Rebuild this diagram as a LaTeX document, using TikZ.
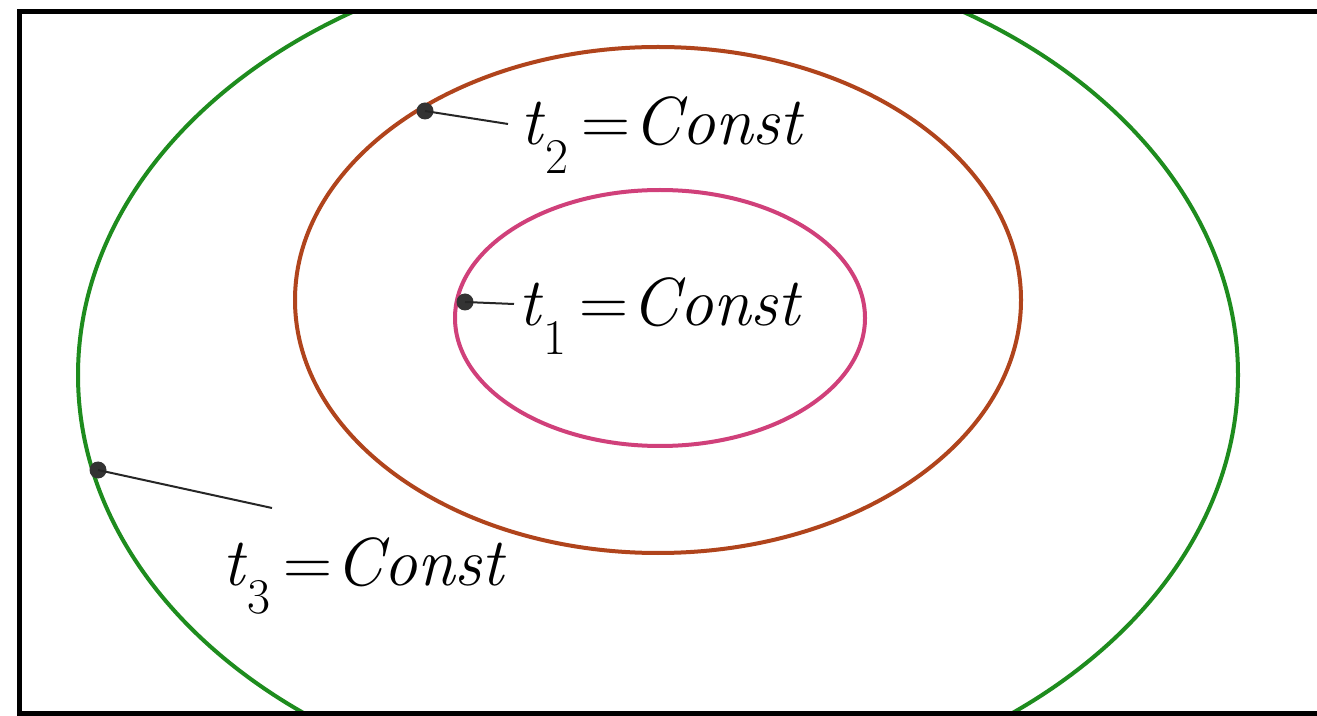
\documentclass[tikz,border=0pt]{standalone}
\usepackage{fontspec}
\definecolor{greenc}{HTML}{1E8C1E}
\definecolor{brownc}{HTML}{B0441C}
\definecolor{pinkc}{HTML}{D0407A}
\newcommand\tlab[1]{\textit{t}\raisebox{-0.42em}{\fontsize{25}{28}\selectfont #1}\hspace{0.2em}=\hspace{0.04em}\textit{Const}}
\tikzset{
  frameline/.style={line width=2.5pt,black},
  curve/.style={line width=2pt},
  dotnode/.style={circle,fill=black!80,inner sep=0pt,minimum size=8.5pt},
  leader/.style={line width=1pt,black!85},
  labnode/.style={anchor=base west,inner sep=0pt,font=\fontsize{34}{40}\selectfont}
}
\begin{document}
\begin{tikzpicture}[x=0.5pt,y=-0.5pt]
\useasboundingbox (0,0) rectangle (1317,716);
\fill[white] (0,0) rectangle (1317,716);
\begin{scope}
\clip (19,12) rectangle (1317,713);
\draw[curve,greenc] (658,375) ellipse [x radius=580, y radius=427];
\end{scope}
\draw[curve,brownc] (658,300) ellipse [x radius=363, y radius=253];
\draw[curve,pinkc] (660,318) ellipse [x radius=205, y radius=128];
\begin{scope}
\clip (0,0) rectangle (1317,716);
\draw[frameline] (1340,12) -- (19,12) -- (19,713) -- (1340,713);
\end{scope}
% dots
\node[dotnode] (d2) at (425,111) {};
\node[dotnode] (d1) at (465,302) {};
\node[dotnode] (d3) at (98,470) {};
\coordinate (e2) at (508,124);
\coordinate (e1) at (514,304);
\coordinate (e3) at (272,508);
\draw[leader] (d2.center) -- (e2);
\draw[leader] (d1.center) -- (e1);
\draw[leader] (d3.center) -- (e3);
% labels
\node[labnode] (l2) at (520,145) {\tlab{2}};
\node[labnode] (l1) at (518,326) {\tlab{1}};
\node[labnode] (l3) at (222,585) {\tlab{3}};
\end{tikzpicture}
\end{document}
